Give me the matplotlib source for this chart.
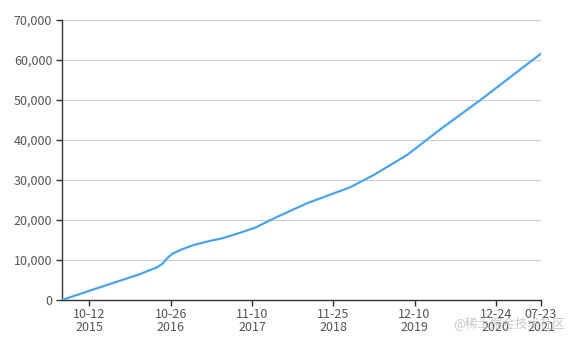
"""累计数量随时间增长的折线图（2015-06 ~ 2021-07）。"""

import matplotlib
matplotlib.use("Agg")
import matplotlib.pyplot as plt
import matplotlib.dates as mdates
from matplotlib.ticker import FuncFormatter
from datetime import date

plt.rcParams["font.family"] = ["Noto Sans CJK SC", "DejaVu Sans"]

# 点（日期, 累计值）
DATES = [
    "2015-06-06", "2015-10-09", "2016-03-13", "2016-06-06", "2016-08-24",
    "2016-09-16", "2016-10-09", "2016-11-01", "2016-12-10", "2017-02-10",
    "2017-04-29", "2017-06-23", "2017-09-09", "2017-11-26", "2018-02-20",
    "2018-07-26", "2019-02-13", "2019-06-02", "2019-11-05", "2020-04-09",
    "2020-10-13", "2021-07-23",
]
VALUES = [
    0, 2250, 5000, 6500, 8200,
    9000, 10400, 11500, 12500, 13750,
    14800, 15400, 16700, 18100, 20400,
    24200, 28200, 31250, 36250, 42700,
    50000, 61600,
]
TICK_DATES = ["2015-10-12", "2016-10-26", "2017-11-10", "2018-11-25",
              "2019-12-10", "2020-12-24", "2021-07-23"]
Y_TICKS = [0, 10000, 20000, 30000, 40000, 50000, 60000, 70000]

LINE = "#4ca3ec"
TXT = "#333333"


def d(s):
    return date.fromisoformat(s)


def main():
    fig = plt.figure(figsize=(5.74, 3.42), dpi=100)
    ax = fig.add_axes([62 / 574, 42 / 342, 479 / 574, 280 / 342])

    xs = [d(s) for s in DATES]
    ax.plot(xs, VALUES, color=LINE, lw=1.6, solid_capstyle="round",
            solid_joinstyle="round", zorder=3)

    ax.set_xlim(d(DATES[0]), d(DATES[-1]))
    ax.set_ylim(0, 70000)
    ax.set_yticks(Y_TICKS)
    ax.yaxis.set_major_formatter(FuncFormatter(lambda v, _: f"{int(v):,}"))

    ticks = [d(s) for s in TICK_DATES]
    ax.set_xticks(mdates.date2num(ticks))
    ax.set_xticklabels([f"{t:%m-%d}\n{t:%Y}" for t in ticks], linespacing=0.95)

    ax.grid(axis="y", color="#cccccc", lw=0.8)
    ax.set_axisbelow(True)
    for s in ("top", "right"):
        ax.spines[s].set_visible(False)
    for s in ("left", "bottom"):
        ax.spines[s].set_color(TXT)
        ax.spines[s].set_linewidth(1.0)
    ax.tick_params(colors=TXT, labelcolor="#555555", labelsize=9, length=4, width=1)
    ax.tick_params(axis="y", pad=3)
    ax.tick_params(axis="x", pad=2)

    # 水印
    fig.text(0.985, 0.035, "@稀土掘金技术社区", ha="right", va="bottom",
             fontsize=9, color="#bbbbbb", alpha=0.8)

    fig.savefig("out.png", dpi=100)


if __name__ == "__main__":
    main()
